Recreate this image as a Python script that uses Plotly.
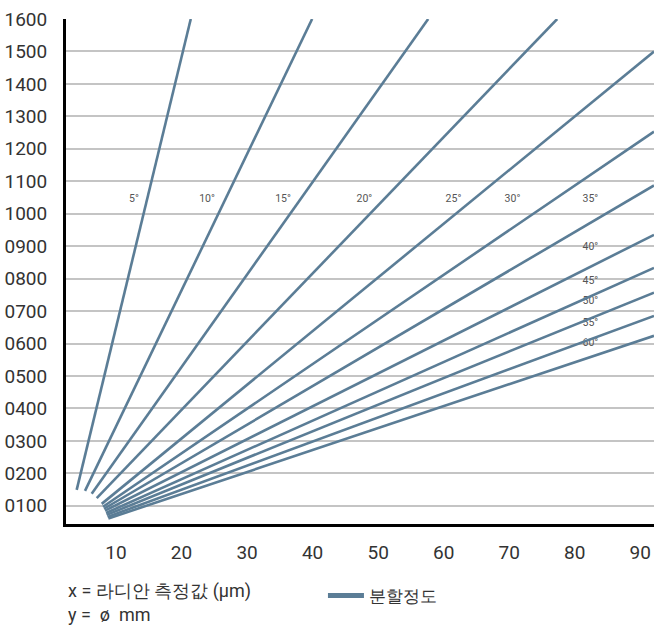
import plotly.graph_objects as go

# Data
angles = ["5°", "10°", "15°", "20°", "25°", "30°", "35°", "40°", "45°", "50°", "55°", "60°"]
x_start = [4.00, 5.27, 6.29, 7.06, 7.82, 8.02, 8.17, 8.32, 8.48, 8.58, 8.71, 8.83]
y_start = [149, 146, 137, 124, 106, 97, 91, 85, 78, 72, 66, 61]
x_end = [21.41, 39.93, 57.64, 77.33, 92.1, 92.1, 92.1, 92.1, 92.1, 92.1, 92.1, 92.1]
y_end = [1600, 1600, 1600, 1600, 1500, 1253, 1087, 935, 833, 757, 685, 624]

label_x = [12.75, 23.9, 35.5, 47.9, 61.5, 70.5, 82.4, 82.4, 82.4, 82.4, 82.4, 82.4]
label_y = [1043, 1043, 1043, 1043, 1043, 1043, 1043, 895, 793, 729, 661, 599]

x_ticks = [10, 20, 30, 40, 50, 60, 70, 80, 90]
y_ticks = [100, 200, 300, 400, 500, 600, 700, 800, 900, 1000, 1100, 1200, 1300, 1400, 1500, 1600]
y_tick_text = [f"{v:04d}" for v in y_ticks]

line_color = "#5b7d96"
font_family = "Roboto, 'Liberation Sans', Arial, sans-serif"
text_color = "#333333"

fig = go.Figure()

# Angle labels (drawn first so lines sit on top)
fig.add_trace(go.Scatter(
    x=label_x, y=label_y, text=angles, mode="text",
    textfont=dict(size=10.5, color="#555555", family=font_family),
    showlegend=False, hoverinfo="skip",
))

for i, a in enumerate(angles):
    fig.add_trace(go.Scatter(
        x=[x_start[i], x_end[i]], y=[y_start[i], y_end[i]],
        mode="lines", line=dict(color=line_color, width=2.6),
        name=a, showlegend=False,
    ))

# Legend entry
fig.add_trace(go.Scatter(
    x=[None], y=[None], mode="lines",
    line=dict(color=line_color, width=5),
    name="분할정도", showlegend=True,
))

fig.update_layout(
    width=654, height=628,
    margin=dict(l=66, r=0, t=19, b=104, autoexpand=False),
    paper_bgcolor="white", plot_bgcolor="white",
    font=dict(family=font_family, color=text_color),
    xaxis=dict(
        range=[2.37, 92.1], tickvals=x_ticks, ticktext=[str(v) for v in x_ticks],
        showgrid=False, zeroline=False, automargin=False,
        showline=True, linecolor="black", linewidth=3,
        tickfont=dict(size=19, color=text_color),
        ticks="", ticklabelstandoff=9,
    ),
    yaxis=dict(
        range=[44, 1600], tickvals=y_ticks, ticktext=y_tick_text,
        showgrid=True, gridcolor="#c4c4c4", gridwidth=1.5,
        zeroline=False, automargin=False,
        showline=True, linecolor="black", linewidth=3,
        tickfont=dict(size=19, color=text_color),
        ticks="", ticklabelstandoff=12,
    ),
    legend=dict(
        x=0.437, y=-0.1426, xanchor="left", yanchor="middle",
        itemwidth=36,
        font=dict(size=17, color=text_color, family=font_family),
        bgcolor="rgba(0,0,0,0)",
    ),
    annotations=[
        dict(text="x = 라디안 측정값 (μm)", xref="paper", yref="paper",
             x=0.0, y=-0.1327, xanchor="left", yanchor="middle", showarrow=False,
             font=dict(size=18, color=text_color, family=font_family)),
        dict(text="y =  ø  mm", xref="paper", yref="paper",
             x=0.0, y=-0.180, xanchor="left", yanchor="middle", showarrow=False,
             font=dict(size=18, color=text_color, family=font_family)),
    ],
)

fig.write_html(
    "out.html",
    config={"displayModeBar": False},
    post_script="document.body.style.margin='0px';document.body.style.overflow='hidden';",
)
